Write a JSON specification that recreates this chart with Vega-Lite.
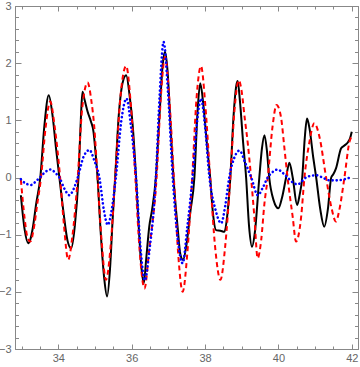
{
  "$schema": "https://vega.github.io/schema/vega-lite/v6.json",
  "width": 343,
  "height": 343,
  "autosize": {"type": "none"},
  "padding": {"left": 15, "top": 6, "right": 2, "bottom": 18},
  "background": "white",
  "config": {
    "view": {"stroke": "#888", "strokeWidth": 1},
    "axis": {"grid": false, "domainColor": "#888", "tickColor": "#888", "labelColor": "#666", "labelFont": "Liberation Sans", "labelFontSize": 11, "title": null, "tickWidth": 1, "domainWidth": 1}
  },
  "datasets": {
    "black": [
      {"x": 32.98, "y": -0.31}, {"x": 33.08, "y": -0.9}, {"x": 33.18, "y": -1.15}, {"x": 33.24, "y": -1.08}, {"x": 33.3, "y": -0.9}, {"x": 33.4, "y": -0.45}, {"x": 33.51, "y": 0.0}, {"x": 33.62, "y": 0.9}, {"x": 33.74, "y": 1.44}, {"x": 33.85, "y": 1.05}, {"x": 33.94, "y": 0.5}, {"x": 34.03, "y": 0.0}, {"x": 34.15, "y": -0.65}, {"x": 34.25, "y": -1.1}, {"x": 34.35, "y": -1.24}, {"x": 34.45, "y": -0.85}, {"x": 34.55, "y": 0.0}, {"x": 34.62, "y": 1.1}, {"x": 34.66, "y": 1.5}, {"x": 34.72, "y": 1.35}, {"x": 34.8, "y": 1.15}, {"x": 34.89, "y": 0.98}, {"x": 34.96, "y": 0.8}, {"x": 35.02, "y": 0.4}, {"x": 35.07, "y": 0.0}, {"x": 35.15, "y": -0.9}, {"x": 35.25, "y": -1.75}, {"x": 35.33, "y": -2.08}, {"x": 35.41, "y": -1.6}, {"x": 35.48, "y": -0.75}, {"x": 35.55, "y": 0.0}, {"x": 35.65, "y": 1.1}, {"x": 35.75, "y": 1.65}, {"x": 35.85, "y": 1.79}, {"x": 35.95, "y": 1.4}, {"x": 36.03, "y": 0.9}, {"x": 36.12, "y": 0.0}, {"x": 36.2, "y": -0.95}, {"x": 36.27, "y": -1.6}, {"x": 36.33, "y": -1.85}, {"x": 36.4, "y": -1.4}, {"x": 36.48, "y": -0.86}, {"x": 36.56, "y": -0.55}, {"x": 36.66, "y": 0.0}, {"x": 36.76, "y": 1.1}, {"x": 36.85, "y": 2.0}, {"x": 36.91, "y": 2.2}, {"x": 36.98, "y": 1.85}, {"x": 37.06, "y": 0.9}, {"x": 37.14, "y": 0.0}, {"x": 37.25, "y": -0.85}, {"x": 37.33, "y": -1.35}, {"x": 37.4, "y": -1.44}, {"x": 37.5, "y": -1.15}, {"x": 37.6, "y": -0.6}, {"x": 37.71, "y": 0.0}, {"x": 37.8, "y": 1.2}, {"x": 37.87, "y": 1.65}, {"x": 37.95, "y": 1.3}, {"x": 38.05, "y": 0.6}, {"x": 38.14, "y": 0.0}, {"x": 38.22, "y": -0.65}, {"x": 38.3, "y": -0.92}, {"x": 38.42, "y": -0.93}, {"x": 38.53, "y": -0.95}, {"x": 38.6, "y": -0.7}, {"x": 38.69, "y": 0.0}, {"x": 38.78, "y": 1.1}, {"x": 38.85, "y": 1.6}, {"x": 38.89, "y": 1.69}, {"x": 38.95, "y": 1.35}, {"x": 39.04, "y": 0.6}, {"x": 39.12, "y": 0.0}, {"x": 39.2, "y": -0.85}, {"x": 39.28, "y": -1.21}, {"x": 39.36, "y": -0.95}, {"x": 39.48, "y": 0.0}, {"x": 39.55, "y": 0.5}, {"x": 39.62, "y": 0.74}, {"x": 39.69, "y": 0.45}, {"x": 39.75, "y": 0.0}, {"x": 39.87, "y": -0.4}, {"x": 40.0, "y": -0.54}, {"x": 40.1, "y": -0.35}, {"x": 40.21, "y": 0.0}, {"x": 40.3, "y": 0.26}, {"x": 40.39, "y": 0.0}, {"x": 40.51, "y": -0.48}, {"x": 40.58, "y": -0.3}, {"x": 40.65, "y": 0.0}, {"x": 40.72, "y": 0.7}, {"x": 40.78, "y": 1.03}, {"x": 40.85, "y": 0.85}, {"x": 40.95, "y": 0.35}, {"x": 41.03, "y": 0.0}, {"x": 41.14, "y": -0.55}, {"x": 41.25, "y": -0.86}, {"x": 41.35, "y": -0.55}, {"x": 41.44, "y": 0.0}, {"x": 41.5, "y": 0.06}, {"x": 41.57, "y": 0.16}, {"x": 41.71, "y": 0.51}, {"x": 41.8, "y": 0.56}, {"x": 41.9, "y": 0.62}, {"x": 41.96, "y": 0.7}, {"x": 42.0, "y": 0.8}
    ],
    "red": [
      {"x": 32.98, "y": -0.04}, {"x": 33.08, "y": -0.7}, {"x": 33.16, "y": -1.05}, {"x": 33.24, "y": -1.12}, {"x": 33.33, "y": -0.9}, {"x": 33.43, "y": -0.45}, {"x": 33.53, "y": 0.0}, {"x": 33.65, "y": 0.85}, {"x": 33.78, "y": 1.33}, {"x": 33.9, "y": 0.9}, {"x": 34.05, "y": 0.0}, {"x": 34.15, "y": -0.8}, {"x": 34.27, "y": -1.44}, {"x": 34.38, "y": -1.05}, {"x": 34.53, "y": 0.0}, {"x": 34.65, "y": 1.2}, {"x": 34.8, "y": 1.66}, {"x": 34.9, "y": 1.35}, {"x": 34.98, "y": 0.89}, {"x": 35.07, "y": 0.0}, {"x": 35.18, "y": -1.1}, {"x": 35.3, "y": -1.79}, {"x": 35.42, "y": -1.25}, {"x": 35.55, "y": 0.0}, {"x": 35.7, "y": 1.45}, {"x": 35.85, "y": 1.95}, {"x": 35.98, "y": 1.25}, {"x": 36.1, "y": 0.0}, {"x": 36.22, "y": -1.3}, {"x": 36.35, "y": -1.94}, {"x": 36.48, "y": -1.25}, {"x": 36.68, "y": 0.0}, {"x": 36.8, "y": 1.45}, {"x": 36.91, "y": 2.11}, {"x": 37.03, "y": 1.35}, {"x": 37.15, "y": 0.0}, {"x": 37.27, "y": -1.35}, {"x": 37.39, "y": -2.0}, {"x": 37.52, "y": -1.3}, {"x": 37.65, "y": 0.0}, {"x": 37.77, "y": 1.4}, {"x": 37.89, "y": 1.95}, {"x": 38.01, "y": 1.25}, {"x": 38.14, "y": 0.0}, {"x": 38.28, "y": -1.25}, {"x": 38.42, "y": -1.79}, {"x": 38.55, "y": -1.2}, {"x": 38.69, "y": 0.0}, {"x": 38.8, "y": 1.15}, {"x": 38.92, "y": 1.7}, {"x": 39.0, "y": 1.5}, {"x": 39.08, "y": 1.05}, {"x": 39.165, "y": 0.6}, {"x": 39.255, "y": 0.0}, {"x": 39.345, "y": -0.69}, {"x": 39.435, "y": -1.41}, {"x": 39.53, "y": -1.1}, {"x": 39.62, "y": -0.45}, {"x": 39.71, "y": 0.0}, {"x": 39.84, "y": 0.89}, {"x": 39.95, "y": 1.27}, {"x": 40.07, "y": 1.06}, {"x": 40.16, "y": 0.54}, {"x": 40.25, "y": 0.0}, {"x": 40.39, "y": -0.69}, {"x": 40.48, "y": -1.12}, {"x": 40.62, "y": -0.69}, {"x": 40.71, "y": 0.0}, {"x": 40.84, "y": 0.6}, {"x": 40.98, "y": 0.95}, {"x": 41.12, "y": 0.71}, {"x": 41.3, "y": 0.0}, {"x": 41.44, "y": -0.51}, {"x": 41.57, "y": -0.77}, {"x": 41.66, "y": -0.57}, {"x": 41.8, "y": 0.0}, {"x": 41.94, "y": 0.63}, {"x": 42.0, "y": 0.72}
    ],
    "blue": [
      {"x": 32.98, "y": -0.03}, {"x": 33.1, "y": -0.1}, {"x": 33.26, "y": -0.13}, {"x": 33.4, "y": -0.06}, {"x": 33.5, "y": 0.0}, {"x": 33.65, "y": 0.1}, {"x": 33.8, "y": 0.14}, {"x": 33.92, "y": 0.08}, {"x": 34.03, "y": 0.0}, {"x": 34.17, "y": -0.2}, {"x": 34.3, "y": -0.31}, {"x": 34.42, "y": -0.2}, {"x": 34.53, "y": 0.0}, {"x": 34.7, "y": 0.38}, {"x": 34.85, "y": 0.48}, {"x": 34.98, "y": 0.3}, {"x": 35.12, "y": 0.0}, {"x": 35.25, "y": -0.6}, {"x": 35.35, "y": -0.83}, {"x": 35.46, "y": -0.55}, {"x": 35.57, "y": 0.0}, {"x": 35.72, "y": 1.0}, {"x": 35.86, "y": 1.38}, {"x": 35.98, "y": 0.9}, {"x": 36.12, "y": 0.0}, {"x": 36.25, "y": -1.3}, {"x": 36.36, "y": -1.8}, {"x": 36.48, "y": -1.3}, {"x": 36.66, "y": 0.0}, {"x": 36.76, "y": 1.4}, {"x": 36.87, "y": 2.37}, {"x": 36.99, "y": 1.5}, {"x": 37.12, "y": 0.0}, {"x": 37.26, "y": -1.1}, {"x": 37.39, "y": -1.5}, {"x": 37.52, "y": -0.85}, {"x": 37.66, "y": 0.0}, {"x": 37.78, "y": 0.95}, {"x": 37.89, "y": 1.38}, {"x": 38.0, "y": 0.9}, {"x": 38.12, "y": 0.0}, {"x": 38.28, "y": -0.55}, {"x": 38.44, "y": -0.8}, {"x": 38.55, "y": -0.5}, {"x": 38.66, "y": 0.0}, {"x": 38.8, "y": 0.35}, {"x": 38.94, "y": 0.47}, {"x": 39.1, "y": 0.25}, {"x": 39.26, "y": 0.0}, {"x": 39.44, "y": -0.31}, {"x": 39.58, "y": -0.17}, {"x": 39.71, "y": 0.0}, {"x": 39.85, "y": 0.1}, {"x": 39.98, "y": 0.14}, {"x": 40.12, "y": 0.08}, {"x": 40.25, "y": 0.0}, {"x": 40.4, "y": -0.09}, {"x": 40.53, "y": -0.12}, {"x": 40.65, "y": -0.06}, {"x": 40.75, "y": 0.0}, {"x": 40.9, "y": 0.03}, {"x": 41.03, "y": 0.04}, {"x": 41.2, "y": 0.0}, {"x": 41.39, "y": -0.05}, {"x": 41.6, "y": -0.05}, {"x": 41.8, "y": -0.03}, {"x": 41.96, "y": 0.0}
    ]
  },
  "layer": [
    {
      "mark": {"type": "rule", "color": "#888", "strokeWidth": 1},
      "encoding": {
        "y": {"datum": 0, "type": "quantitative", "scale": {"domain": [-3, 3], "nice": false, "zero": false},
          "axis": {"orient": "left", "values": [-3, -2.8, -2.6, -2.4, -2.2, -2, -1.8, -1.6, -1.4, -1.2, -1, -0.8, -0.6, -0.4, -0.2, 0, 0.2, 0.4, 0.6, 0.8, 1, 1.2, 1.4, 1.6, 1.8, 2, 2.2, 2.4, 2.6, 2.8, 3],
            "labelExpr": "abs(datum.value - round(datum.value)) < 0.01 ? format(datum.value, 'd') : ''",
            "tickSize": {"condition": {"test": "abs(datum.value - round(datum.value)) < 0.01", "value": -6}, "value": -3.5},
            "labelPadding": 10}}
      }
    },
    {
      "data": {"name": "black"},
      "mark": {"type": "line", "color": "black", "strokeWidth": 2, "interpolate": "monotone"},
      "encoding": {
        "x": {"field": "x", "type": "quantitative", "scale": {"domain": [32.82, 42.17], "nice": false, "zero": false},
          "axis": {"orient": "bottom", "values": [33, 33.5, 34, 34.5, 35, 35.5, 36, 36.5, 37, 37.5, 38, 38.5, 39, 39.5, 40, 40.5, 41, 41.5, 42],
            "labelExpr": "datum.value % 2 == 0 ? format(datum.value, 'd') : ''",
            "tickSize": {"condition": {"test": "datum.value % 2 == 0", "value": -5}, "value": -3},
            "labelPadding": 8}},
        "y": {"field": "y", "type": "quantitative", "axis": null}
      }
    },
    {
      "data": {"name": "red"},
      "mark": {"type": "line", "color": "#ff0000", "strokeWidth": 2, "strokeDash": [5, 3.5], "interpolate": "monotone"},
      "encoding": {
        "x": {"field": "x", "type": "quantitative",
          "axis": {"orient": "top", "values": [33, 33.5, 34, 34.5, 35, 35.5, 36, 36.5, 37, 37.5, 38, 38.5, 39, 39.5, 40, 40.5, 41, 41.5, 42], "labels": false,
            "tickSize": {"condition": {"test": "datum.value % 2 == 0", "value": -5}, "value": -3}}},
        "y": {"field": "y", "type": "quantitative",
          "axis": {"orient": "right", "values": [-3, -2.8, -2.6, -2.4, -2.2, -2, -1.8, -1.6, -1.4, -1.2, -1, -0.8, -0.6, -0.4, -0.2, 0, 0.2, 0.4, 0.6, 0.8, 1, 1.2, 1.4, 1.6, 1.8, 2, 2.2, 2.4, 2.6, 2.8, 3], "labels": false,
            "tickSize": {"condition": {"test": "abs(datum.value - round(datum.value)) < 0.01", "value": -6}, "value": -3.5}}}
      }
    },
    {
      "data": {"name": "blue"},
      "mark": {"type": "line", "color": "#0000ff", "strokeWidth": 2.6, "strokeDash": [0.1, 4], "strokeCap": "round", "interpolate": "monotone"},
      "encoding": {
        "x": {"field": "x", "type": "quantitative", "axis": null},
        "y": {"field": "y", "type": "quantitative", "axis": null}
      }
    }
  ],
  "resolve": {"axis": {"x": "independent", "y": "independent"}}
}
